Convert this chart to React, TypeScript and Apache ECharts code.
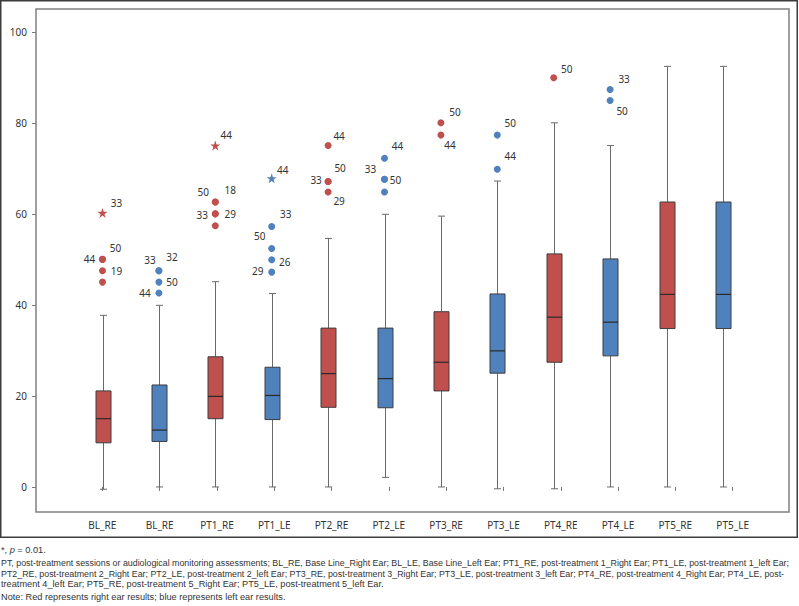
import React, { useEffect, useRef } from "react";
import * as echarts from "echarts";

// ---- data ----
const categories = ["BL_RE", "BL_RE", "PT1_RE", "PT1_LE", "PT2_RE", "PT2_LE", "PT3_RE", "PT3_LE", "PT4_RE", "PT4_LE", "PT5_RE", "PT5_LE"];
const ear = ["R", "L", "R", "L", "R", "L", "R", "L", "R", "L", "R", "L"];
const whiskerLow = [-0.5, 0, 0, 0, 0, 2.1, 0, -0.4, -0.4, 0, 0, 0];
const quartile1 = [9.7, 10.0, 15.0, 14.8, 17.5, 17.4, 21.1, 25.0, 27.4, 28.8, 34.8, 34.8];
const medians = [15.0, 12.5, 19.9, 20.1, 24.9, 23.8, 27.4, 29.9, 37.3, 36.2, 42.3, 42.3];
const quartile3 = [21.1, 22.4, 28.6, 26.3, 34.9, 34.9, 38.5, 42.4, 51.2, 50.1, 62.6, 62.6];
const whiskerHigh = [37.7, 39.9, 45.1, 42.5, 54.6, 59.9, 59.5, 67.2, 80.0, 75.0, 92.4, 92.4];

const outlierCategory = [0, 0, 0, 0, 0, 1, 1, 1, 1, 2, 2, 2, 2, 2, 2, 3, 3, 3, 3, 3, 4, 4, 4, 4, 5, 5, 5, 5, 6, 6, 7, 7, 8, 9, 9];
const outlierValue = [60.2, 50.0, 50.0, 47.5, 45.0, 47.5, 47.5, 45.0, 42.6, 75.0, 62.6, 62.6, 60.0, 60.0, 57.4, 67.8, 57.2, 52.4, 49.9, 47.2, 75.0, 67.1, 67.1, 64.8, 72.2, 67.6, 67.6, 64.8, 80.0, 77.3, 77.3, 69.8, 89.9, 87.3, 84.9];
const outlierCase = ["33", "44", "50", "19", "", "33", "32", "50", "44", "44", "50", "18", "33", "29", "", "44", "33", "50", "26", "29", "44", "50", "33", "29", "44", "33", "50", "", "50", "44", "50", "44", "50", "33", "50"];
const outlierExtreme = [true, false, false, false, false, false, false, false, false, true, false, false, false, false, false, true, false, false, false, false, false, false, false, false, false, false, false, false, false, false, false, false, false, false, false];

const yTickValues = [0, 20, 40, 60, 80, 100];

const footnotes = [
  "*, {i|p} = 0.01.",
  "PT, post-treatment sessions or audiological monitoring assessments; BL_RE, Base Line_Right Ear; BL_LE, Base Line_Left Ear; PT1_RE, post-treatment 1_Right Ear; PT1_LE, post-treatment 1_left Ear;",
  "PT2_RE, post-treatment 2_Right Ear; PT2_LE, post-treatment 2_left Ear; PT3_RE, post-treatment 3_Right Ear; PT3_LE, post-treatment 3_left Ear; PT4_RE, post-treatment 4_Right Ear; PT4_LE, post-",
  "treatment 4_left Ear; PT5_RE, post-treatment 5_Right Ear; PT5_LE, post-treatment 5_left Ear.",
  "Note: Red represents right ear results; blue represents left ear results.",
];

// ---- styles ----
const labelOffsets: [number, number][] = [
  [14, -10], [-13, 0], [13, -11], [14, 0], [0, 0],
  [-9, -11], [13, -14], [13, 0], [-14, 0],
  [11, -11], [-12, -10], [15, -12], [-13, 1], [15, 0], [0, 0],
  [11, -8], [14, -13], [-12, -12], [13, 2], [-14, -1],
  [11, -10], [12, -14], [-12, -2], [11, 9],
  [13, -12], [-14, -10], [11, 1], [0, 0],
  [14, -11], [9, 10],
  [13, -12], [13, -13],
  [13, -9],
  [14, -11], [12, 11],
];
const footnoteY = [550, 563, 573.5, 584, 597];
const footnoteSize = [9.2, 8.85, 8.85, 9.2, 9.2];
const RED = "#C0504D";
const BLUE = "#4F81BD";
const FONT = "'Noto Sans', sans-serif";
const NOTE_FONT = "'Liberation Sans Narrow', 'Liberation Sans', sans-serif";
const STAR = "path://M50,0 L61.8,35.1 L98.1,35.1 L68.8,56.8 L79.4,91 L50,70 L20.6,91 L31.2,56.8 L1.9,35.1 L38.2,35.1 Z";
const Y_MIN = -5.5;
const Y_MAX = 105;

export default function App() {
  const ref = useRef<HTMLDivElement>(null);
  useEffect(() => {
    document.body.style.margin = "0";
    if (!ref.current) return;
    const chart = echarts.init(ref.current, null, { renderer: "svg" });

    const boxData = categories.map((_, i) => [i, whiskerLow[i], quartile1[i], medians[i], quartile3[i], whiskerHigh[i], ear[i] === "R" ? 0 : 1]);
    const outlierData = outlierValue.map((v, i) => ({
      value: [outlierCategory[i], v],
      name: outlierCase[i],
      symbol: outlierExtreme[i] ? STAR : "circle",
      symbolSize: outlierExtreme[i] ? 10 : 7,
      itemStyle: { color: ear[outlierCategory[i]] === "R" ? RED : BLUE, opacity: 1 },
      label: { offset: labelOffsets[i] },
    }));

    const yHidden = (gi: number) => ({
      type: "value" as const, gridIndex: gi, min: Y_MIN, max: Y_MAX, show: false, splitLine: { show: false },
    });

    chart.setOption({
      animation: false,
      grid: [
        { left: 36, right: 10, top: 9, bottom: 94, show: true, borderColor: "#808080", borderWidth: 1.5, backgroundColor: "transparent" },
        { left: 73.7, right: 37.7, top: 9, bottom: 94 },
        { left: 74.3, right: 47.9, top: 9, bottom: 94 },
      ],
      xAxis: [
        { type: "value", gridIndex: 0, show: false, min: 0, max: 1 },
        {
          type: "category", gridIndex: 1, data: categories, boundaryGap: true,
          axisLine: { show: false },
          axisTick: { show: true, alignWithLabel: true, length: 4, lineStyle: { color: "#777" } },
          axisLabel: { interval: 0, margin: 8, fontSize: 10, color: "#333", fontFamily: FONT },
        },
        { type: "category", gridIndex: 2, data: categories, show: false, boundaryGap: true },
      ],
      yAxis: [
        {
          type: "value", gridIndex: 0, min: Y_MIN, max: Y_MAX,
          axisLine: { show: false },
          splitLine: { show: false },
          axisTick: { show: true, inside: false, length: 4, customValues: yTickValues, lineStyle: { color: "#777" } },
          axisLabel: { customValues: yTickValues, margin: 9, fontSize: 10, color: "#333", fontFamily: FONT },
        },
        yHidden(1),
        yHidden(2),
      ],
      series: [
        {
          type: "custom",
          xAxisIndex: 2,
          yAxisIndex: 2,
          data: boxData,
          encode: { x: 0, y: [1, 2, 3, 4, 5] },
          renderItem: (params: any, api: any) => {
            const x = api.value(0);
            const lo = api.coord([x, api.value(1)]);
            const q1 = api.coord([x, api.value(2)]);
            const md = api.coord([x, api.value(3)]);
            const q3 = api.coord([x, api.value(4)]);
            const hi = api.coord([x, api.value(5)]);
            const cx = Math.round(lo[0]) + 0.5;
            const half = 7.5;
            const cap = 3.5;
            const fill = api.value(6) === 0 ? RED : BLUE;
            const whisk = { stroke: "#6a6a6a", lineWidth: 1 };
            return {
              type: "group",
              children: [
                { type: "line", shape: { x1: cx, y1: hi[1], x2: cx, y2: q3[1] }, style: whisk },
                { type: "line", shape: { x1: cx, y1: q1[1], x2: cx, y2: lo[1] }, style: whisk },
                { type: "line", shape: { x1: cx - cap, y1: hi[1], x2: cx + cap, y2: hi[1] }, style: whisk },
                { type: "line", shape: { x1: cx - cap, y1: lo[1], x2: cx + cap, y2: lo[1] }, style: whisk },
                { type: "rect", shape: { x: cx - half, y: q3[1], width: half * 2, height: q1[1] - q3[1] }, style: { fill, stroke: "#3c3c3c", lineWidth: 1 } },
                { type: "line", shape: { x1: cx - half, y1: md[1], x2: cx + half, y2: md[1] }, style: { stroke: "#2a2a2a", lineWidth: 1.2 } },
              ],
            };
          },
        },
        {
          type: "scatter",
          xAxisIndex: 2,
          yAxisIndex: 2,
          data: outlierData,
          label: {
            show: true,
            position: "inside",
            formatter: (p: any) => p.name,
            fontSize: 10,
            color: "#333",
            fontFamily: FONT,
            align: "center",
            verticalAlign: "middle",
          },
          z: 5,
        },
      ],
      graphic: [
        { type: "rect", shape: { x: 0.75, y: 0.75, width: 796.5, height: 536.5 }, style: { fill: "none", stroke: "#3c3c3c", lineWidth: 1.5 }, silent: true },
        ...footnotes.map((t, i) => ({
          type: "text",
          style: {
            x: 1,
            y: footnoteY[i],
            text: t,
            fontSize: footnoteSize[i],
            fontFamily: NOTE_FONT,
            fill: "#333",
            verticalAlign: "middle",
            rich: { i: { fontStyle: "italic", fontSize: footnoteSize[i], fontFamily: NOTE_FONT, fill: "#333" } },
          },
        })),
      ],
    });
    return () => chart.dispose();
  }, []);
  return <div ref={ref} style={{ width: 799, height: 606 }} />;
}
